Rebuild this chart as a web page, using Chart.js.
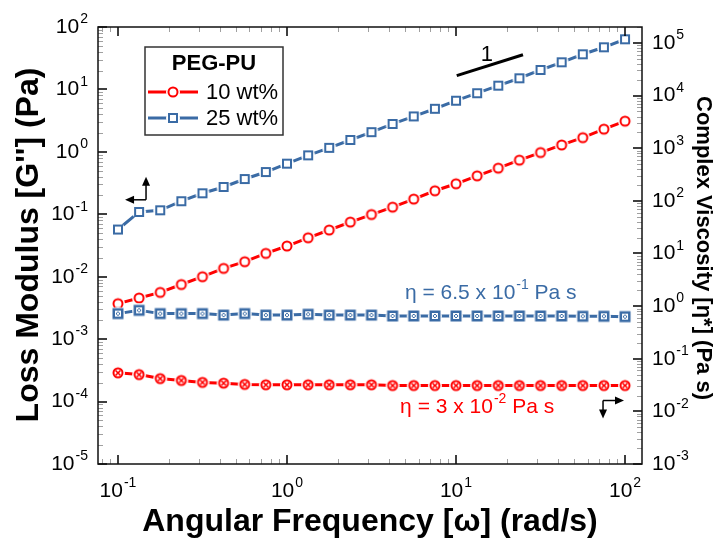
<!DOCTYPE html>
<html>
<head>
<meta charset="utf-8">
<script src="https://cdn.jsdelivr.net/npm/chart.js@4.4.0/dist/chart.umd.min.js"></script>
<style>
  html, body { margin: 0; padding: 0; background: #fff; }
</style>
</head>
<body>
<canvas id="chart" width="714" height="550"></canvas>
<script>
// angular frequency (rad/s), 8 points per decade
const omega = [0.1, 0.1334, 0.1778, 0.2371, 0.3162, 0.4217, 0.5623, 0.7499,
  1, 1.334, 1.778, 2.371, 3.162, 4.217, 5.623, 7.499,
  10, 13.34, 17.78, 23.71, 31.62, 42.17, 56.23, 74.99, 100];

// loss modulus G'' (Pa), left axis
const gpp10 = [0.0037, 0.00456, 0.0056, 0.0075, 0.0100, 0.0136, 0.0174, 0.0236,
  0.031, 0.042, 0.056, 0.075, 0.099, 0.130, 0.175, 0.238,
  0.308, 0.413, 0.548, 0.736, 0.975, 1.29, 1.69, 2.31, 3.10];
const gpp25 = [0.057, 0.109, 0.116, 0.162, 0.217, 0.274, 0.367, 0.475,
  0.647, 0.88, 1.16, 1.55, 2.07, 2.8, 3.7, 4.9,
  6.6, 8.7, 11.5, 15.1, 20.5, 27.2, 36.6, 47.3, 63.6];

// complex viscosity (Pa s), right axis
const eta10 = [0.054, 0.050, 0.042, 0.0387, 0.0355, 0.0344, 0.0325, 0.032,
  0.032, 0.032, 0.032, 0.032, 0.032, 0.031, 0.031, 0.031,
  0.031, 0.031, 0.031, 0.031, 0.031, 0.031, 0.031, 0.031, 0.031];
const eta25 = [0.72, 0.83, 0.72, 0.72, 0.72, 0.675, 0.72, 0.675,
  0.675, 0.70, 0.675, 0.675, 0.675, 0.65, 0.65, 0.65,
  0.65, 0.65, 0.65, 0.65, 0.65, 0.65, 0.64, 0.64, 0.63];

const seriesNames = ["10 wt%", "25 wt%"];
const xTicks = [0.1, 1, 10, 100];
const yTicks = [1e-5, 1e-4, 1e-3, 1e-2, 1e-1, 1, 10, 100];
const y2Ticks = [1e-3, 1e-2, 1e-1, 1, 10, 100, 1e3, 1e4, 1e5];

const RED = "#ff0000";
const BLUE = "#3a6ba5";
const FONT = '"Liberation Sans", Arial, sans-serif';

// --- markers (drawn on a white halo so the line shows gaps like the original) ---

function marker(kind, color) {
  const c = document.createElement("canvas");
  c.width = 18; c.height = 18;
  const g = c.getContext("2d");
  g.fillStyle = "#fff";
  g.beginPath(); g.arc(9, 9, 7, 0, Math.PI * 2); g.fill();
  g.strokeStyle = color;
  if (kind === "circle" || kind === "xcircle") {
    g.lineWidth = 2;
    g.beginPath(); g.arc(9, 9, 4.5, 0, Math.PI * 2); g.stroke();
    if (kind === "xcircle") {
      g.lineWidth = 1.6;
      g.beginPath();
      g.moveTo(6.5, 6.5); g.lineTo(11.5, 11.5);
      g.moveTo(11.5, 6.5); g.lineTo(6.5, 11.5);
      g.stroke();
    }
  } else if (kind === "square") {
    g.lineWidth = 2;
    g.strokeRect(5, 5, 8, 8);
  } else if (kind === "xsquare") {
    g.fillStyle = color;
    g.fillRect(3.5, 3.5, 11, 11);
    g.strokeStyle = "#fff";
    g.lineWidth = 1;
    g.strokeRect(6.5, 6.5, 5, 5);
    g.beginPath();
    g.moveTo(7, 7); g.lineTo(11, 11);
    g.moveTo(11, 7); g.lineTo(7, 11);
    g.stroke();
  }
  return c;
}

const mk = {
  circle: marker("circle", RED),
  square: marker("square", BLUE),
  xcircle: marker("xcircle", RED),
  xsquare: marker("xsquare", BLUE)
};

function pts(ys) { return omega.map((w, i) => ({ x: w, y: ys[i] })); }

function ds(label, ys, color, style, axis, order) {
  return {
    label, data: pts(ys), yAxisID: axis, order,
    showLine: true, borderColor: color, borderWidth: 3,
    pointStyle: style, pointRadius: 5, pointHoverRadius: 5
  };
}

// --- annotations (data coordinates, left axis) ---
const slopeLine = { x1: 10.1, y1: 16.6, x2: 24.9, y2: 36, labelX: 15.2, labelY: 35.6 };
const arrowLeft = { x: 0.1466, y: 0.1706 };
const arrowRight = { x: 74.1, y: 1.04e-4 };
const etaBlue = { x: 4.99, y: 5.5e-3 };
const etaRed = { x: 4.67, y: 8.0e-5 };

function arrow(ctx, x1, y1, x2, y2) {
  const a = Math.atan2(y2 - y1, x2 - x1), L = 9, W = 4;
  ctx.beginPath(); ctx.moveTo(x1, y1);
  ctx.lineTo(x2 - L * Math.cos(a) * 0.8, y2 - L * Math.sin(a) * 0.8); ctx.stroke();
  ctx.beginPath();
  ctx.moveTo(x2, y2);
  ctx.lineTo(x2 - L * Math.cos(a) + W * Math.sin(a), y2 - L * Math.sin(a) - W * Math.cos(a));
  ctx.lineTo(x2 - L * Math.cos(a) - W * Math.sin(a), y2 - L * Math.sin(a) + W * Math.cos(a));
  ctx.closePath(); ctx.fill();
}

function pow10(ctx, v, x, y, align, size) {
  const base = "10", sup = String(Math.round(Math.log10(v)));
  const ss = Math.round(size * 0.65);
  ctx.font = size + "px " + FONT;
  const wb = ctx.measureText(base).width;
  ctx.font = ss + "px " + FONT;
  const ws = ctx.measureText(sup).width;
  const w = wb + 1 + ws;
  const x0 = align === "right" ? x - w : align === "center" ? x - w / 2 : x;
  ctx.textAlign = "left"; ctx.textBaseline = "middle";
  ctx.font = size + "px " + FONT; ctx.fillText(base, x0, y);
  ctx.font = ss + "px " + FONT; ctx.fillText(sup, x0 + wb + 1, y - size * 0.36);
}

function minorValues(lo, hi) {
  const out = [];
  for (let d = Math.floor(Math.log10(lo)); d <= Math.ceil(Math.log10(hi)); d++) {
    for (let m = 2; m <= 9; m++) {
      const v = m * Math.pow(10, d);
      if (v > lo && v < hi) out.push(v);
    }
  }
  return out;
}

const framePlugin = {
  id: "frame",
  afterDraw(chart) {
    const { ctx, chartArea: a, scales } = chart;
    const x = scales.x, y = scales.y, y2 = scales.y2;
    ctx.save();

    // minor ticks
    ctx.strokeStyle = "#a0a0a0"; ctx.lineWidth = 1;
    ctx.beginPath();
    minorValues(x.min, x.max).forEach(v => {
      const px = Math.round(x.getPixelForValue(v)) + 0.5;
      ctx.moveTo(px, a.bottom); ctx.lineTo(px, a.bottom - 5);
      ctx.moveTo(px, a.top); ctx.lineTo(px, a.top + 5);
    });
    minorValues(y.min, y.max).forEach(v => {
      const py = Math.round(y.getPixelForValue(v)) + 0.5;
      ctx.moveTo(a.left, py); ctx.lineTo(a.left + 5, py);
    });
    minorValues(y2.min, y2.max).forEach(v => {
      const py = Math.round(y2.getPixelForValue(v)) + 0.5;
      ctx.moveTo(a.right, py); ctx.lineTo(a.right - 5, py);
    });
    ctx.stroke();

    // major ticks
    ctx.strokeStyle = "#000"; ctx.lineWidth = 1.5;
    ctx.beginPath();
    xTicks.forEach(v => {
      const px = Math.round(x.getPixelForValue(v));
      ctx.moveTo(px, a.bottom); ctx.lineTo(px, a.bottom - 9);
      ctx.moveTo(px, a.top); ctx.lineTo(px, a.top + 9);
    });
    yTicks.forEach(v => {
      const py = Math.round(y.getPixelForValue(v));
      ctx.moveTo(a.left, py); ctx.lineTo(a.left + 9, py);
    });
    y2Ticks.forEach(v => {
      const py = Math.round(y2.getPixelForValue(v));
      ctx.moveTo(a.right, py); ctx.lineTo(a.right - 9, py);
    });
    ctx.stroke();

    // frame
    ctx.strokeStyle = "#111"; ctx.lineWidth = 1.5;
    ctx.strokeRect(a.left, a.top, a.right - a.left, a.bottom - a.top);

    // tick labels
    ctx.fillStyle = "#000";
    xTicks.forEach(v => pow10(ctx, v, x.getPixelForValue(v), a.bottom + 27, "center", 21));
    yTicks.forEach(v => pow10(ctx, v, a.left - 10, y.getPixelForValue(v), "right", 21));
    y2Ticks.forEach(v => pow10(ctx, v, a.right + 10, y2.getPixelForValue(v), "left", 21));

    // axis titles
    ctx.font = "bold 32px " + FONT;
    ctx.textAlign = "center"; ctx.textBaseline = "alphabetic";
    ctx.fillText("Angular Frequency [\u03c9] (rad/s)", (a.left + a.right) / 2, 531);

    ctx.save();
    ctx.translate(29, 245); ctx.rotate(-Math.PI / 2);
    ctx.textBaseline = "middle";
    ctx.fillText("Loss Modulus [G''] (Pa)", 0, 0);
    ctx.restore();

    ctx.save();
    ctx.font = "bold 22px " + FONT;
    ctx.translate(703, 248); ctx.rotate(Math.PI / 2);
    ctx.textAlign = "center"; ctx.textBaseline = "middle";
    ctx.fillText("Complex Viscosity [\u03b7*] (Pa s)", 0, 0);
    ctx.restore();

    // legend
    ctx.fillStyle = "#fff";
    ctx.fillRect(145, 47, 138, 88);
    ctx.strokeStyle = "#333"; ctx.lineWidth = 1.5;
    ctx.strokeRect(145, 47, 138, 88);
    ctx.fillStyle = "#000";
    ctx.font = "bold 22px " + FONT;
    ctx.textAlign = "center"; ctx.textBaseline = "middle";
    ctx.fillText("PEG-PU", 214, 64);
    [[RED, mk.circle, 92], [BLUE, mk.square, 118]].forEach(([col, m, ly], i) => {
      ctx.strokeStyle = col; ctx.lineWidth = 3;
      ctx.beginPath(); ctx.moveTo(148, ly); ctx.lineTo(198, ly); ctx.stroke();
      ctx.drawImage(m, 173 - 9, ly - 9);
      ctx.fillStyle = "#000";
      ctx.font = "22px " + FONT; ctx.textAlign = "left";
      ctx.fillText(seriesNames[i], 206, ly + 1);
    });

    // slope line
    ctx.strokeStyle = "#000"; ctx.lineWidth = 3;
    ctx.beginPath();
    ctx.moveTo(x.getPixelForValue(slopeLine.x1), y.getPixelForValue(slopeLine.y1));
    ctx.lineTo(x.getPixelForValue(slopeLine.x2), y.getPixelForValue(slopeLine.y2));
    ctx.stroke();
    ctx.font = "22px " + FONT; ctx.textAlign = "center"; ctx.textBaseline = "middle";
    ctx.fillText("1", x.getPixelForValue(slopeLine.labelX), y.getPixelForValue(slopeLine.labelY));

    // axis arrows
    ctx.strokeStyle = "#000"; ctx.fillStyle = "#000"; ctx.lineWidth = 1.5;
    let cx = x.getPixelForValue(arrowLeft.x), cy = y.getPixelForValue(arrowLeft.y);
    arrow(ctx, cx, cy, cx, cy - 23);
    arrow(ctx, cx, cy, cx - 21, cy);
    cx = x.getPixelForValue(arrowRight.x); cy = y.getPixelForValue(arrowRight.y);
    arrow(ctx, cx, cy, cx + 21, cy);
    arrow(ctx, cx, cy, cx, cy + 18);

    // viscosity notes
    function note(pos, color, mant, exp) {
      const px = x.getPixelForValue(pos.x), py = y.getPixelForValue(pos.y);
      ctx.fillStyle = color; ctx.textAlign = "left"; ctx.textBaseline = "middle";
      ctx.font = "21px " + FONT;
      const a1 = "\u03b7 = " + mant + " x 10";
      ctx.fillText(a1, px, py);
      let w = ctx.measureText(a1).width;
      ctx.font = "14px " + FONT;
      ctx.fillText(exp, px + w + 1, py - 8);
      w += ctx.measureText(exp).width + 1;
      ctx.font = "21px " + FONT;
      ctx.fillText(" Pa s", px + w, py);
    }
    note(etaBlue, BLUE, "6.5", "-1");
    note(etaRed, RED, "3", "-2");

    ctx.restore();
  }
};

new Chart(document.getElementById("chart"), {
  type: "scatter",
  data: {
    datasets: [
      ds("eta 10 wt%", eta10, RED, mk.xcircle, "y2", 0),
      ds("eta 25 wt%", eta25, BLUE, mk.xsquare, "y2", 0),
      ds("G'' 10 wt%", gpp10, RED, mk.circle, "y", 1),
      ds("G'' 25 wt%", gpp25, BLUE, mk.square, "y", 1)
    ]
  },
  options: {
    responsive: false,
    animation: false,
    layout: { padding: { left: 98, top: 27, right: 72, bottom: 86 } },
    plugins: { legend: { display: false }, tooltip: { enabled: false } },
    scales: {
      x: { type: "logarithmic", min: 0.0762, max: 126, display: false },
      y: { type: "logarithmic", position: "left", min: 1e-5, max: 100, display: false },
      y2: { type: "logarithmic", position: "right", min: 1e-3, max: 2.01e5, display: false }
    }
  },
  plugins: [framePlugin]
});
</script>
</body>
</html>
